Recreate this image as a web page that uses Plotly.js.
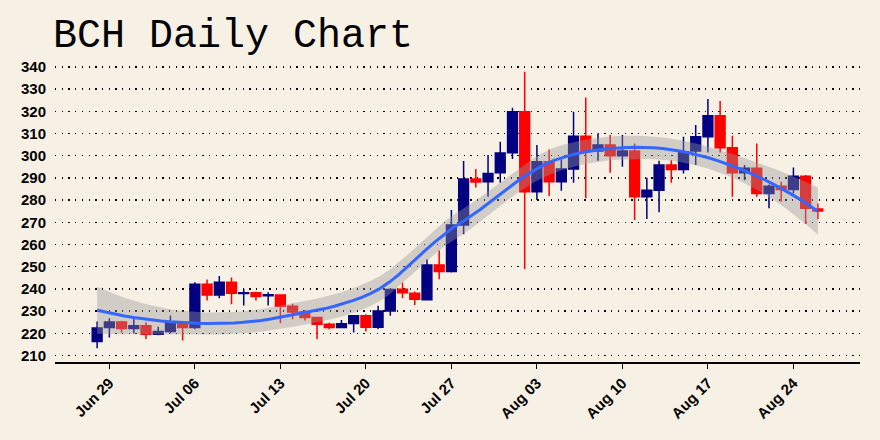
<!DOCTYPE html>
<html>
<head>
<meta charset="utf-8">
<script src="https://cdn.plot.ly/plotly-3.0.1.min.js"></script>
<style>html,body{margin:0;padding:0;background:#F7F1E5;}#chart{width:880px;height:440px;}</style>
</head>
<body>
<div id="chart"></div>
<script>
// ---- data (BCH daily OHLC) ----
const startDate = "2020-06-28";
const openP  = [216.3,222.6,225.1,222.2,223.4,219.6,220.8,224.6,222.6,242.1,237.3,243.0,237.9,238.3,236.9,
                237.3,232.2,229.6,227.1,224.1,222.6,224.4,227.9,222.8,230.1,239.9,238.1,235.1,250.8,247.8,
                268.8,289.5,288.3,292.3,301.3,319.8,283.8,297.3,288.3,294.0,308.8,302.1,304.8,300.0,302.1,
                281.5,284.5,295.8,293.8,302.1,308.5,318.0,303.6,292.3,294.3,283.0,286.3,284.8,290.8,276.0];
const highP  = [225.3,226.8,225.7,226.5,225.0,223.0,228.0,225.0,243.0,244.3,245.8,245.2,240.0,238.7,238.5,
                237.6,233.3,230.5,227.5,224.8,226.0,228.3,228.6,232.4,240.0,242.8,238.8,253.4,257.3,275.5,
                297.6,294.0,300.3,306.3,321.6,337.8,304.8,302.8,298.3,319.8,326.2,310.0,309.3,309.3,305.5,
                290.1,297.7,298.0,308.5,313.8,325.5,324.6,309.0,295.8,305.5,287.0,288.3,294.7,291.3,278.5];
const lowP   = [213.3,218.1,220.4,220.1,217.5,219.2,220.1,216.8,221.9,234.8,235.8,233.1,232.5,234.8,232.5,
                224.6,226.4,225.8,217.4,221.8,222.3,220.4,220.8,222.0,227.9,235.8,232.8,235.0,244.4,247.4,
                264.6,285.7,281.5,287.8,298.5,249.0,280.0,281.8,284.2,287.8,280.8,297.7,292.3,295.0,271.0,
                271.5,274.5,287.8,292.0,295.8,301.5,301.5,281.5,289.0,281.5,276.3,279.3,283.0,269.2,271.4];
const closeP = [222.4,225.1,222.2,223.4,219.6,220.8,224.9,222.6,242.1,237.3,243.0,238.1,238.3,236.6,237.4,
                232.2,229.6,227.1,224.1,222.6,224.3,227.9,222.8,230.1,239.8,238.3,235.4,250.8,247.8,268.8,
                289.5,288.2,292.0,301.2,319.8,283.8,297.3,288.3,294.0,308.8,302.1,304.8,300.0,302.1,281.5,
                284.5,295.8,293.8,301.8,308.5,318.0,303.6,292.3,294.3,283.0,286.3,284.8,290.8,276.3,275.1];
const tickDates  = ["2020-06-29","2020-07-06","2020-07-13","2020-07-20","2020-07-27","2020-08-03","2020-08-10","2020-08-17","2020-08-24"];
const tickLabels = ["Jun 29","Jul 06","Jul 13","Jul 20","Jul 27","Aug 03","Aug 10","Aug 17","Aug 24"];
const yTicks = [210,220,230,240,250,260,270,280,290,300,310,320,330,340];

// ---- helpers ----
const DAY = 86400000;
const t0 = Date.parse(startDate + "T00:00:00Z");
function isoAt(ms){ return new Date(ms).toISOString().replace("T"," ").replace("Z","").slice(0,19); }
const dates = closeP.map((_, i) => isoAt(t0 + i*DAY));
const xs = closeP.map((_, i) => i);

// local quadratic fit operator at x0: returns weight rows for value and slope
function localRows(x0, xv, span){
  const n = xv.length, q = Math.floor(n*span);
  const d = xv.map(x => Math.abs(x - x0));
  const h = d.slice().sort((a,b)=>a-b)[q-1] * 1.0000001;
  const w = d.map(di => di < h ? Math.pow(1 - Math.pow(di/h,3),3) : 0);
  const M = [[0,0,0],[0,0,0],[0,0,0]];
  for (let i=0;i<n;i++){
    const t = xv[i]-x0, b=[1,t,t*t];
    for (let r=0;r<3;r++) for (let c=0;c<3;c++) M[r][c] += w[i]*b[r]*b[c];
  }
  const a=M[0][0],b2=M[0][1],c=M[0][2],d2=M[1][0],e=M[1][1],f=M[1][2],g=M[2][0],hh=M[2][1],k=M[2][2];
  const det = a*(e*k-f*hh) - b2*(d2*k-f*g) + c*(d2*hh-e*g);
  const r0 = [(e*k-f*hh)/det, -(b2*k-c*hh)/det, (b2*f-c*e)/det];
  const r1 = [-(d2*k-f*g)/det, (a*k-c*g)/det, -(a*f-c*d2)/det];
  const val = xv.map((x,i)=>{ const t=x-x0; return w[i]*(r0[0]+r0[1]*t+r0[2]*t*t); });
  const slo = xv.map((x,i)=>{ const t=x-x0; return w[i]*(r1[0]+r1[1]*t+r1[2]*t*t); });
  return {val, slo};
}
// kd-tree vertices (1-D) like R loess surface="interpolate"
function vertices(xv, span){
  const n = xv.length, fc = Math.floor(n*span*0.2);
  const margin = 0.005*(xv[n-1]-xv[0]);
  const vs = [xv[0]-margin, xv[n-1]+margin];
  (function split(l,u){
    if (u-l+1 <= fc) return;
    const m = Math.floor((l+u)/2);
    vs.push((xv[m]+xv[m+1])/2);
    split(l,m); split(m+1,u);
  })(0, n-1);
  return vs.sort((a,b)=>a-b);
}
function smooth(xv, yv, span, nOut){
  const n = xv.length;
  const vs = vertices(xv, span);
  const vr = vs.map(v => localRows(v, xv, span));
  function rowAt(x){
    let k = 0; while (k < vs.length-2 && x > vs[k+1]) k++;
    const h = vs[k+1]-vs[k], s = (x-vs[k])/h;
    const h00=2*s*s*s-3*s*s+1, h10=s*s*s-2*s*s+s, h01=-2*s*s*s+3*s*s, h11=s*s*s-s*s;
    const A=vr[k], B=vr[k+1];
    return A.val.map((_,j)=>h00*A.val[j]+h10*h*A.slo[j]+h01*B.val[j]+h11*h*B.slo[j]);
  }
  const L = xv.map(x => rowAt(x));
  const fitted = L.map(row => row.reduce((s,l,j)=>s+l*yv[j],0));
  let rss = 0; for (let i=0;i<n;i++) rss += Math.pow(yv[i]-fitted[i],2);
  const IL = L.map((row,i)=>row.map((v,j)=>(i===j?1:0)-v));
  const A = [];
  for (let i=0;i<n;i++){ A.push([]); for (let j=0;j<n;j++){ let s=0; for(let m=0;m<n;m++) s+=IL[m][i]*IL[m][j]; A[i].push(s);} }
  let d1=0, d2=0;
  for (let i=0;i<n;i++){ d1 += A[i][i]; for (let j=0;j<n;j++) d2 += A[i][j]*A[j][i]; }
  const sigma = Math.sqrt(rss/d1), df = d1*d1/d2, z = 1.959964;
  const tq = z + (z*z*z+z)/(4*df) + (5*Math.pow(z,5)+16*z*z*z+3*z)/(96*df*df);
  const xmin = xv[0], xmax = xv[n-1];
  const gx=[], gy=[], lo=[], hi=[];
  for (let k=0;k<nOut;k++){
    const x0 = xmin + (xmax-xmin)*k/(nOut-1);
    const l = rowAt(x0);
    const yh = l.reduce((s,v,j)=>s+v*yv[j],0);
    const se = sigma*Math.sqrt(l.reduce((s,v)=>s+v*v,0));
    gx.push(isoAt(t0 + x0*DAY)); gy.push(yh); lo.push(yh - tq*se); hi.push(yh + tq*se);
  }
  return {gx, gy, lo, hi};
}
const sm = smooth(xs, closeP, 0.75, 80);

const traces = [
  {
    type: "candlestick", x: dates, open: openP, high: highP, low: lowP, close: closeP,
    increasing: {line: {color: "#000080", width: 1.5}, fillcolor: "#000080"},
    decreasing: {line: {color: "#FF0000", width: 1.5}, fillcolor: "#FF0000"},
    whiskerwidth: 0, hoverinfo: "skip", showlegend: false
  },
  {
    type: "scatter", mode: "lines", x: sm.gx.concat(sm.gx.slice().reverse()),
    y: sm.hi.concat(sm.lo.slice().reverse()), fill: "toself",
    fillcolor: "rgba(153,153,153,0.4)", line: {width: 0}, hoverinfo: "skip", showlegend: false
  },
  {
    type: "scatter", mode: "lines", x: sm.gx, y: sm.gy,
    line: {color: "#3366FF", width: 3}, hoverinfo: "skip", showlegend: false
  }
];

const pad = 3.45*DAY;
const layout = {
  width: 880, height: 440,
  paper_bgcolor: "#F7F1E5", plot_bgcolor: "#F7F1E5",
  margin: {l: 55, r: 20, t: 58, b: 78},
  boxgap: 0.2, boxgroupgap: 0,
  title: {text: "BCH Daily Chart", font: {family: "Courier New, Courier, Nimbus Mono PS, FreeMono, Liberation Mono, monospace", size: 40, color: "#000"},
          x: 53/880, xanchor: "left", xref: "container", y: 1 - 33/440, yanchor: "middle", yref: "container"},
  xaxis: {
    type: "date", range: [isoAt(t0 - pad), isoAt(t0 + 59*DAY + pad)],
    rangeslider: {visible: false},
    tickvals: tickDates, ticktext: tickLabels, tickangle: -45,
    tickfont: {family: "Liberation Sans, Arial, sans-serif", size: 15, color: "#000", weight: "bold"},
    ticks: "outside", ticklen: 5, tickwidth: 1, tickcolor: "#000",
    showline: true, linecolor: "#000", linewidth: 1.5, showgrid: false, zeroline: false, fixedrange: true
  },
  yaxis: {
    range: [207.1, 344.0], tickvals: yTicks, ticktext: yTicks.map(String),
    tickfont: {family: "Liberation Sans, Arial, sans-serif", size: 15, color: "#000", weight: "bold"},
    ticks: "outside", ticklen: 5, tickcolor: "rgba(0,0,0,0)",
    showgrid: true, gridcolor: "#000", gridwidth: 1.3, griddash: "1.3px,5.4px",
    showline: false, zeroline: false, fixedrange: true
  }
};
Plotly.newPlot("chart", traces, layout, {displayModeBar: false, staticPlot: true});
</script>
</body>
</html>
